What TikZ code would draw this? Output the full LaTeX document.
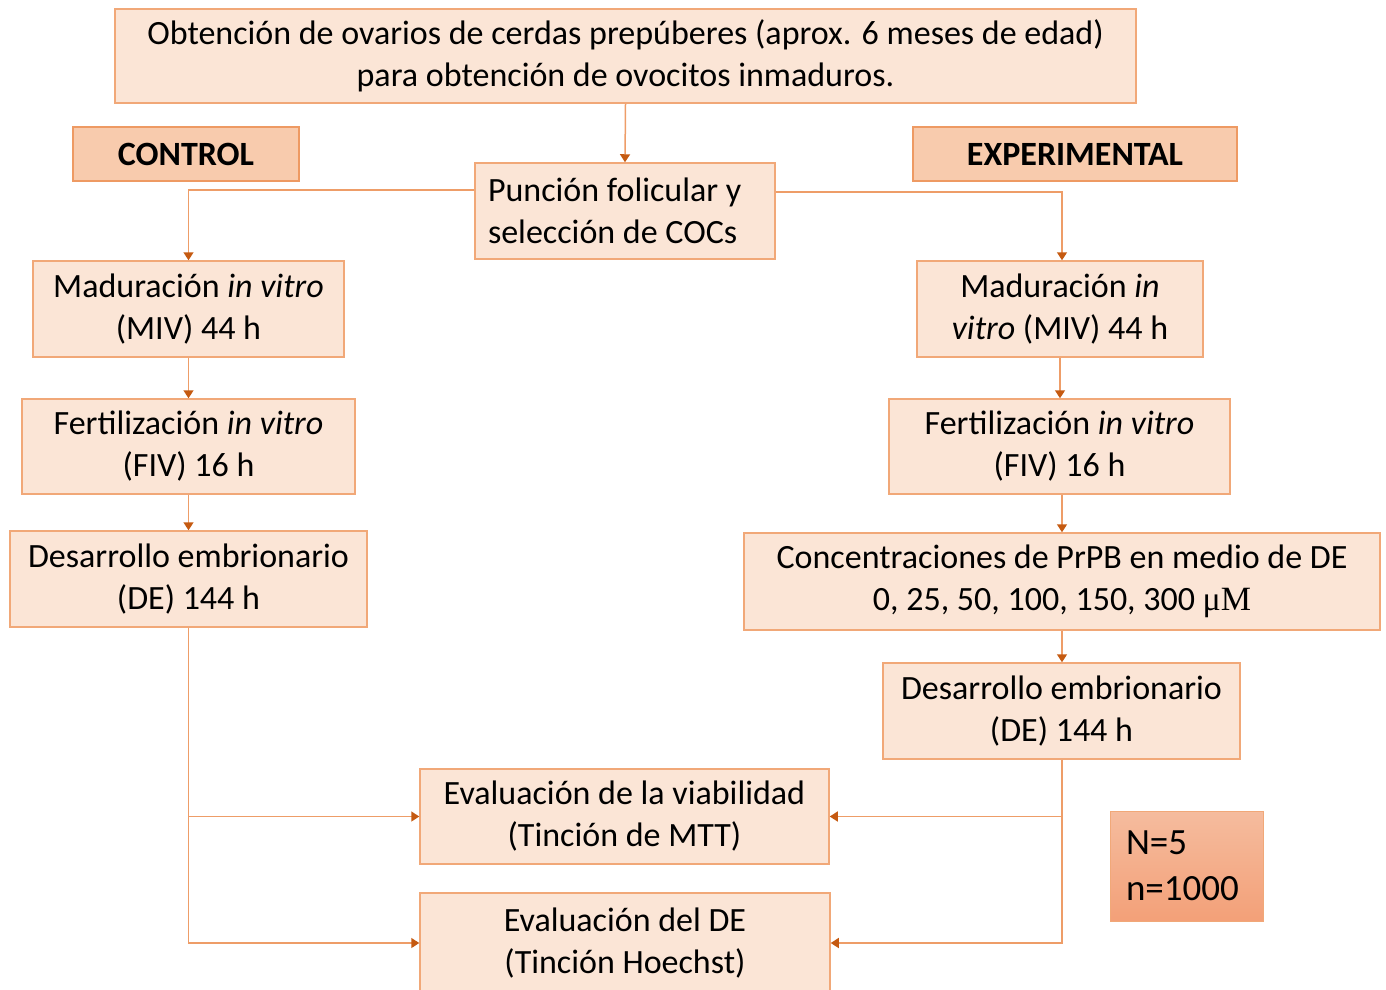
\documentclass[tikz,border=0pt]{standalone}
\usepackage{fontspec}
\setmainfont{Carlito}
\newfontfamily\serifmu{Liberation Serif}
\usetikzlibrary{arrows.meta}
\definecolor{boxfill}{HTML}{FBE5D6}
\definecolor{boxdraw}{HTML}{F1A878}
\definecolor{hdrfill}{HTML}{F8CBAD}
\definecolor{hdrdraw}{HTML}{EE9A63}
\definecolor{linec}{HTML}{EE9D68}
\definecolor{tipc}{HTML}{C55A11}
\definecolor{ntop}{HTML}{F5BC9E}
\definecolor{nbot}{HTML}{F3A078}
\newcommand{\fs}{\fontsize{34}{42}\selectfont}
\tikzset{
  box/.style={draw=boxdraw, fill=boxfill, line width=1.5pt, inner sep=0pt, align=center, font=\fs},
  hdr/.style={draw=hdrdraw, fill=hdrfill, line width=1.5pt, inner sep=0pt, align=center, font=\fs\bfseries},
  conn/.style={draw=linec, line width=1.5pt, -{Triangle[length=8pt,width=10pt,color=tipc]}}
}
\begin{document}
\begin{tikzpicture}[x=1pt,y=-1pt]
\path[use as bounding box] (0,0) rectangle (1386,989);
\clip (0,0) rectangle (1386,989);
\node[box, minimum width=1021, minimum height=94] (top) at (625.5,56)
  {Obtención de ovarios de cerdas prepúberes (aprox. 6 meses de edad)\\para obtención de ovocitos inmaduros.};
\node[hdr, minimum width=226, minimum height=54] (ctrl) at (186,154) {CONTROL};
\node[hdr, minimum width=324, minimum height=54] (expt) at (1075,154) {EXPERIMENTAL};
\node[box, align=flush left, text width=274pt, inner xsep=13pt, minimum height=96] (punc) at (625,211)
  {Punción folicular y\\selección de COCs};
\node[box, minimum width=311, minimum height=96] (mivL) at (188.5,309) {Maduración \textit{in vitro}\\(MIV) 44 h};
\node[box, minimum width=333, minimum height=95] (fivL) at (188.5,446.5) {Fertilización \textit{in vitro}\\(FIV) 16 h};
\node[box, minimum width=357, minimum height=96] (deL) at (188.5,579) {Desarrollo embrionario\\(DE) 144 h};
\node[box, minimum width=286, minimum height=96] (mivR) at (1060,309) {Maduración \textit{in}\\\textit{vitro} (MIV) 44 h};
\node[box, minimum width=341, minimum height=95] (fivR) at (1059.5,446.5) {Fertilización \textit{in vitro}\\(FIV) 16 h};
\node[box, minimum width=636, minimum height=97] (conc) at (1062,581.5) {Concentraciones de PrPB en medio de DE\\0, 25, 50, 100, 150, 300 {\serifmu μM}};
\node[box, minimum width=357, minimum height=96] (deR) at (1061.5,711) {Desarrollo embrionario\\(DE) 144 h};
\node[box, minimum width=409, minimum height=95] (ev1) at (624.5,816.5) {Evaluación de la viabilidad\\(Tinción de MTT)};
\node[box, minimum width=410, minimum height=100] (ev2) at (625,943) {Evaluación del DE\\(Tinción Hoechst)};
\node[draw=boxdraw, line width=1pt, top color=ntop, bottom color=nbot, inner sep=0pt, inner xsep=16pt,
  text width=121pt, align=flush left, minimum height=110, font=\fontsize{37}{44}\selectfont] (nbox) at (1186.5,866) {N=5\\[2pt]n=1000};
\draw[conn] (top.south) -- (punc.north);
\draw[conn] ([yshift=21pt]punc.west) -| (mivL.north);
\draw[conn] ([yshift=19pt]punc.east) -| ([xshift=2pt]mivR.north);
\draw[conn] (mivL.south) -- (fivL.north);
\draw[conn] (fivL.south) -- (deL.north);
\draw[conn] (mivR.south) -- (mivR.south |- fivR.north);
\draw[conn] (fivR.south -| conc.north) -- (conc.north);
\draw[conn] (conc.south) -- (conc.south |- deR.north);
\draw[conn] (deL.south) |- (ev2.west);
\draw[conn] (deL.south |- ev1.west) -- (ev1.west);
\draw[conn] (deR.south -| conc.south) |- (ev2.east);
\draw[conn] (conc.south |- ev1.east) -- (ev1.east);
\end{tikzpicture}
\end{document}
